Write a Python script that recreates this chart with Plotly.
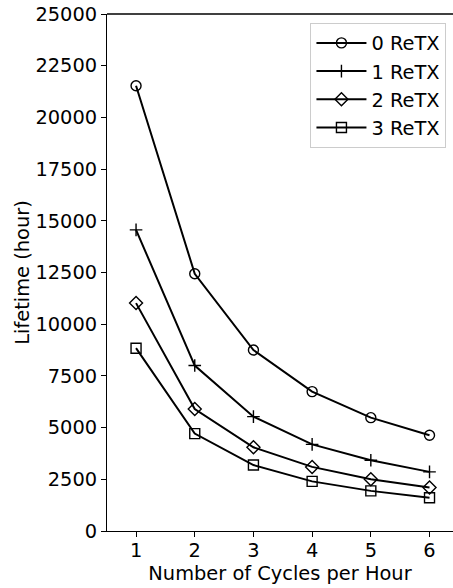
import plotly.graph_objects as go

cycles = [1, 2, 3, 4, 5, 6]
retx0 = [21530, 12440, 8750, 6740, 5480, 4630]
retx1 = [14560, 8000, 5530, 4190, 3420, 2860]
retx2 = [11020, 5900, 4050, 3100, 2500, 2100]
retx3 = [8840, 4710, 3190, 2400, 1940, 1610]
names = ["0 ReTX", "1 ReTX", "2 ReTX", "3 ReTX"]
symbols = ["circle-open", "cross-thin-open", "diamond-open", "square-open"]
sizes = [10, 9, 10, 10]
y_ticks = [0, 2500, 5000, 7500, 10000, 12500, 15000, 17500, 20000, 22500, 25000]

fig = go.Figure()
for name, vals, sym, sz in zip(names, [retx0, retx1, retx2, retx3], symbols, sizes):
    fig.add_trace(go.Scatter(
        x=cycles, y=vals, name=name, mode="lines+markers",
        line=dict(color="black", width=2),
        marker=dict(symbol=sym, size=sz, color="black",
                    line=dict(color="black", width=1.4)),
    ))

font = "DejaVu Sans"
fs = 19.4
fig.update_layout(
    width=453, height=588,
    margin=dict(l=107, r=0, t=14, b=57),
    paper_bgcolor="white", plot_bgcolor="white",
    font=dict(family=font, size=fs, color="black"),
    showlegend=True,
    legend=dict(x=0.588, y=0.983, xanchor="left", yanchor="top",
                bgcolor="white", bordercolor="#cccccc", borderwidth=1,
                font=dict(family=font, size=fs), itemwidth=50,
                tracegroupgap=0),
)
fig.update_xaxes(
    range=[0.505, 6.40], tickvals=cycles, ticks="outside", ticklen=5,
    tickcolor="black", showline=True, linecolor="black", linewidth=1.1,
    mirror=False, showgrid=False, zeroline=False, ticklabelstandoff=-3,
    title=dict(text="Number of Cycles per Hour", standoff=0,
               font=dict(family=font, size=fs)),
    tickfont=dict(family=font, size=fs),
)
fig.update_yaxes(
    range=[0, 25000], tickvals=y_ticks, ticktext=[str(v) for v in y_ticks],
    ticks="outside", ticklen=5, tickcolor="black", showline=True,
    linecolor="black", linewidth=1.1, showgrid=False, zeroline=False,
    title=dict(text="Lifetime (hour)", standoff=0,
               font=dict(family=font, size=fs)),
    tickfont=dict(family=font, size=fs),
)
# top spine
fig.add_shape(type="line", xref="paper", yref="paper", x0=0, x1=1, y0=1, y1=1,
              layer="above", line=dict(color="black", width=1.5))

fig.write_html("out.html", config={"displayModeBar": False},
               post_script="document.body.style.margin='0';")
